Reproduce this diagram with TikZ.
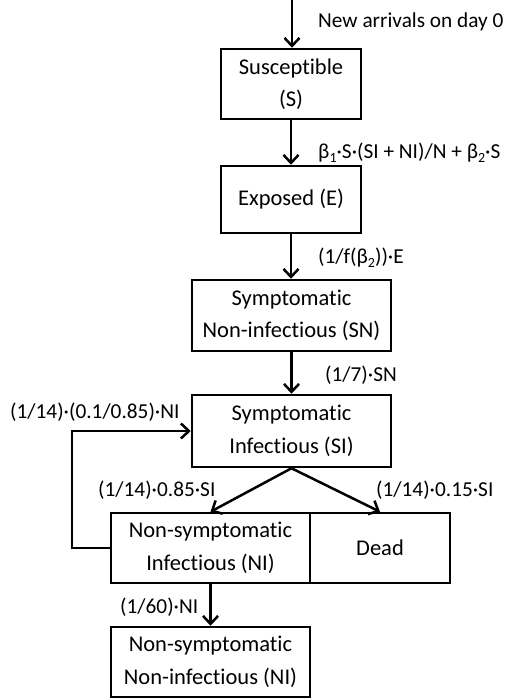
\documentclass[tikz,border=0pt]{standalone}
\usepackage{fontspec}
\setmainfont{Carlito}[Ligatures=NoCommon]
\usetikzlibrary{arrows.meta}
\newcommand\sbs[1]{\raisebox{-0.35ex}{\fontsize{14}{14}\selectfont #1}}
\begin{document}
\begin{tikzpicture}[x=1pt,y=-1pt,
  box/.style={draw,line width=2.5pt,rectangle,inner sep=0pt,align=center,
    font=\fontsize{22.5}{32.5}\selectfont},
  lab/.style={inner sep=0pt,anchor=west,font=\fontsize{21.3}{25}\selectfont},
  flow/.style={line width=2.5pt,-{Straight Barb[length=8pt,width=15pt,line width=2.5pt]}}]
\useasboundingbox (0,0) rectangle (513,698);
\node[box,minimum width=140pt,minimum height=70pt] (S) at (291,84) {Susceptible\\(S)};
\node[box,minimum width=140pt,minimum height=67pt] (E) at (291,199.5) {Exposed (E)};
\node[box,minimum width=199pt,minimum height=71pt] (SN) at (291.5,315.5) {Symptomatic\\Non-infectious (SN)};
\node[box,minimum width=199pt,minimum height=72pt] (SI) at (291.5,431) {Symptomatic\\Infectious (SI)};
\node[box,minimum width=199pt,minimum height=70pt] (NI) at (210.5,548) {Non-symptomatic\\Infectious (NI)};
\node[box,minimum width=140pt,minimum height=70pt] (D) at (380,548) {Dead};
\node[box,minimum width=199pt,minimum height=70pt] (NN) at (210.5,662) {Non-symptomatic\\Non-infectious (NI)};
\coordinate (in) at (292,0);
\draw[flow] (in) -- (S.north -| in);
\draw[flow] (S) -- (E);
\draw[flow] (E) -- (SN.north -| E);
\draw[flow] (SN) -- (SI);
\draw[flow] (SI.south) -- (NI.north);
\draw[flow] (SI.south) -- (D.north);
\draw[flow] (NI) -- (NN);
\draw[flow] (NI.west) -- ++(-38,0) |- (SI.west);
\node[lab] (l0) at (318,22) {New arrivals on day 0};
\node[lab] (l1) at (318,153) {β\sbs{1}·S·(SI + NI)/N + β\sbs{2}·S};
\node[lab] (l2) at (318,258) {(1/f(β\sbs{2}))·E};
\node[lab] (l3) at (325,375) {(1/7)·SN};
\node[lab] (l4) at (10,412) {(1/14)·(0.1/0.85)·NI};
\node[lab] (l5) at (98,490) {(1/14)·0.85·SI};
\node[lab] (l6) at (376,490) {(1/14)·0.15·SI};
\node[lab] (l7) at (120,607) {(1/60)·NI};
\end{tikzpicture}
\end{document}
